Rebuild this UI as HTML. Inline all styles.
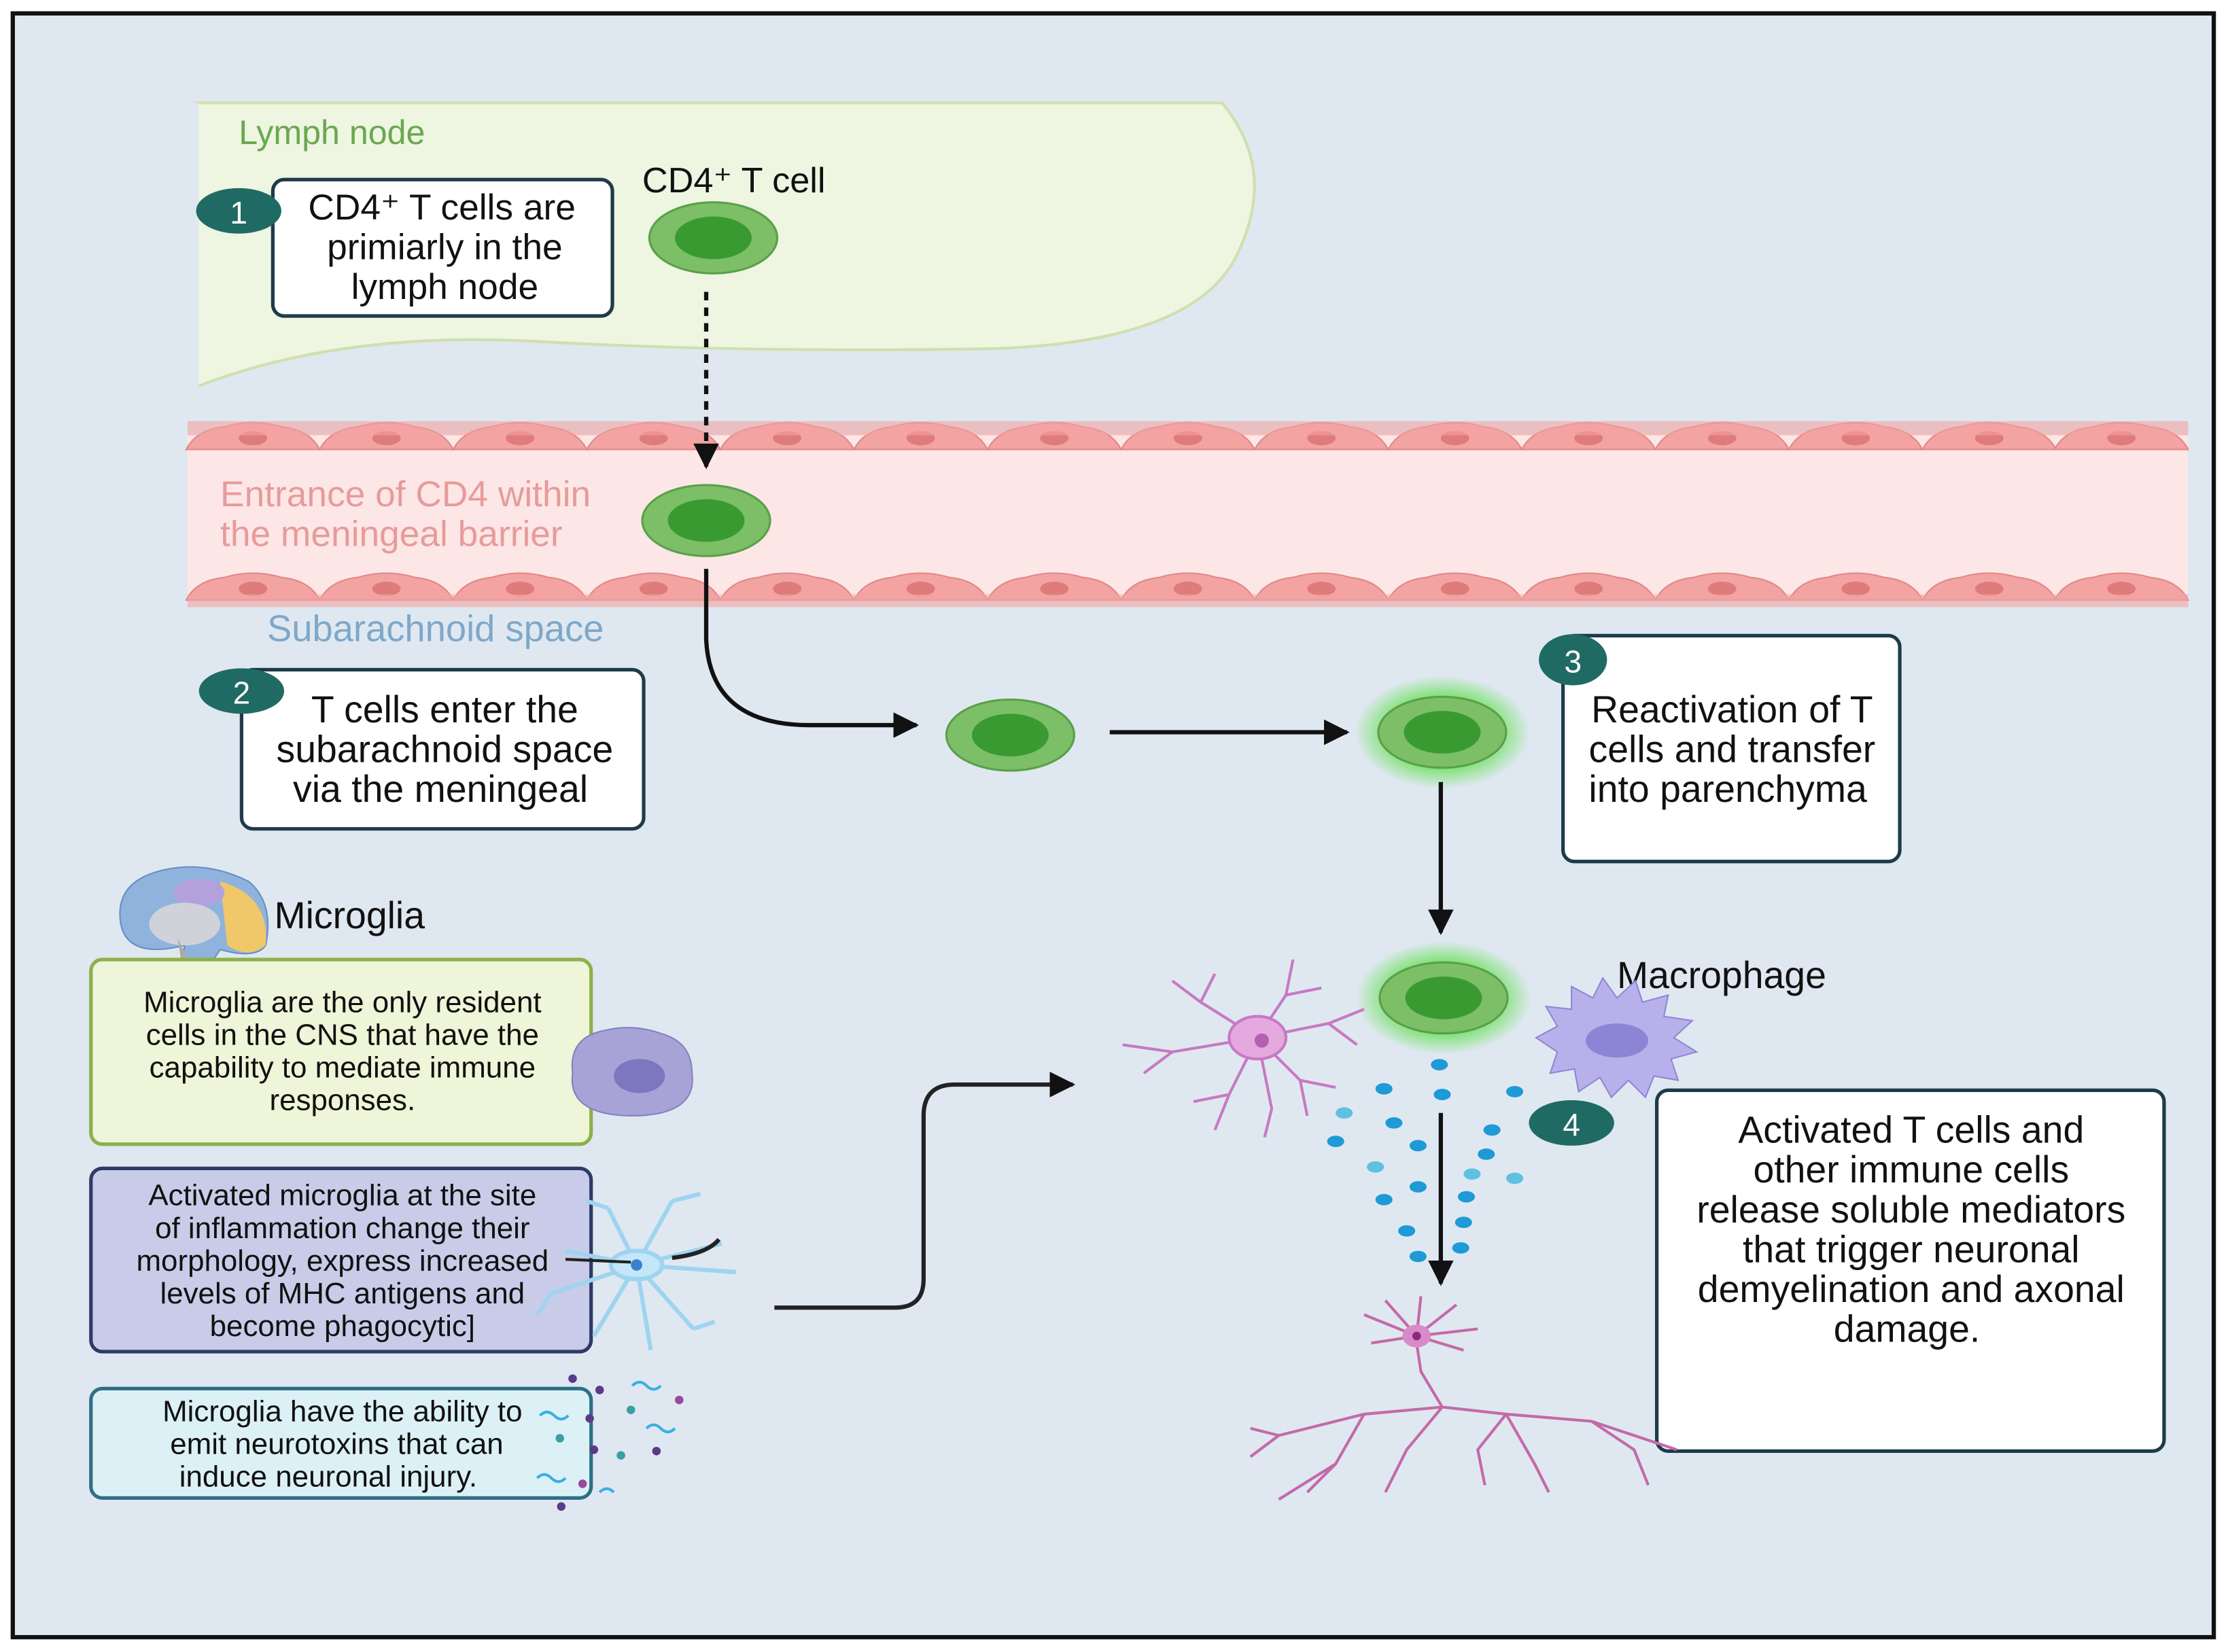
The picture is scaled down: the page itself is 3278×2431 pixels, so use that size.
<!DOCTYPE html>
<html><head><meta charset="utf-8"><style>
html,body{margin:0;padding:0;background:#fff}
svg{display:block}
text{font-family:"Liberation Sans",sans-serif}
</style></head><body>
<svg width="3278" height="2431" viewBox="0 0 1568 1162" xmlns="http://www.w3.org/2000/svg">
<defs>
<radialGradient id="glow"><stop offset="0.55" stop-color="#5fe04a" stop-opacity="0.9"/><stop offset="1" stop-color="#5fe04a" stop-opacity="0"/></radialGradient>
<marker id="ah" viewBox="0 0 10 10" refX="9" refY="5" markerWidth="6" markerHeight="6" orient="auto"><path d="M0,0L10,5L0,10z" fill="#111"/></marker>
<g id="cell"><ellipse rx="45" ry="25" fill="#7cbf66" stroke="#5aa04a" stroke-width="1.5"/><ellipse rx="27" ry="15" fill="#3a9a32"/></g>
<g id="endo"><path d="M-47,8 Q-40,-6 -20,-8 Q0,-14 20,-8 Q40,-6 47,8 Z" fill="#f2a3a2" stroke="#e08888"/><ellipse rx="10" ry="5" fill="#e07b7b"/></g>
</defs>
<rect x="0" y="0" width="1568" height="1162" fill="#fff"/>
<rect x="9" y="9" width="1549" height="1143" fill="#dfe8f1" stroke="#111" stroke-width="3"/>
<path d="M138,72 L860,72 Q900,120 870,180 Q840,240 700,245 Q520,248 380,240 Q240,232 138,272 Z" fill="#eef5e1" stroke="#cfe0ad" stroke-width="2"/>
<rect x="132" y="72" width="8" height="202" fill="#dfe8f1"/>
<text x="168" y="101" font-size="24" fill="#6aa84f">Lymph node</text>
<rect x="192" y="126" width="239" height="96" rx="8" fill="#fff" stroke="#1e3b4a" stroke-width="2.5"/>
<text font-size="25.5" fill="#111" text-anchor="middle"><tspan x="311" y="154">CD4⁺ T cells are</tspan><tspan x="313" y="182">primiarly in the</tspan><tspan x="313" y="210">lymph node</tspan></text>
<ellipse cx="168" cy="148" rx="30" ry="16" fill="#1f6b63"/><text x="168" y="157" font-size="22" fill="#fff" text-anchor="middle">1</text>
<text x="452" y="135" font-size="25" fill="#111">CD4⁺ T cell</text>
<use href="#cell" x="502" y="167"/>
<rect x="132" y="305" width="1408" height="115" fill="#fde6e6"/>
<g>
<use href="#endo" x="178" y="308"/><use href="#endo" x="272" y="308"/><use href="#endo" x="366" y="308"/><use href="#endo" x="460" y="308"/><use href="#endo" x="554" y="308"/><use href="#endo" x="648" y="308"/><use href="#endo" x="742" y="308"/><use href="#endo" x="836" y="308"/><use href="#endo" x="930" y="308"/><use href="#endo" x="1024" y="308"/><use href="#endo" x="1118" y="308"/><use href="#endo" x="1212" y="308"/><use href="#endo" x="1306" y="308"/><use href="#endo" x="1400" y="308"/><use href="#endo" x="1493" y="308"/>
<use href="#endo" x="178" y="414"/><use href="#endo" x="272" y="414"/><use href="#endo" x="366" y="414"/><use href="#endo" x="460" y="414"/><use href="#endo" x="554" y="414"/><use href="#endo" x="648" y="414"/><use href="#endo" x="742" y="414"/><use href="#endo" x="836" y="414"/><use href="#endo" x="930" y="414"/><use href="#endo" x="1024" y="414"/><use href="#endo" x="1118" y="414"/><use href="#endo" x="1212" y="414"/><use href="#endo" x="1306" y="414"/><use href="#endo" x="1400" y="414"/><use href="#endo" x="1493" y="414"/>
</g>
<rect x="132" y="296" width="1408" height="10" fill="#f2a3a2" opacity="0.6"/>
<rect x="132" y="418" width="1408" height="9" fill="#f2a3a2" opacity="0.6"/>
<line x1="497" y1="205" x2="497" y2="328" stroke="#111" stroke-width="3" stroke-dasharray="6,5" marker-end="url(#ah)"/>
<text font-size="25.5" fill="#e79b9b"><tspan x="155" y="356">Entrance of CD4 within</tspan><tspan x="155" y="384">the meningeal barrier</tspan></text>
<use href="#cell" x="497" y="366"/>
<text x="188" y="451" font-size="26" fill="#7fa8c9">Subarachnoid space</text>
<rect x="170" y="471" width="283" height="112" rx="8" fill="#fff" stroke="#1e3b4a" stroke-width="2.5"/>
<text font-size="26.5" fill="#111" text-anchor="middle"><tspan x="313" y="508">T cells enter the</tspan><tspan x="313" y="536">subarachnoid space</tspan><tspan x="310" y="564">via the meningeal</tspan></text>
<ellipse cx="170" cy="486" rx="30" ry="16" fill="#1f6b63"/><text x="170" y="495" font-size="22" fill="#fff" text-anchor="middle">2</text>
<path d="M497,400 L497,450 Q500,510 570,510 L645,510" fill="none" stroke="#111" stroke-width="3" marker-end="url(#ah)"/>
<use href="#cell" x="711" y="517"/>
<line x1="781" y1="515" x2="948" y2="515" stroke="#111" stroke-width="3" marker-end="url(#ah)"/>
<ellipse cx="1015" cy="515" rx="62" ry="40" fill="url(#glow)"/>
<use href="#cell" x="1015" y="515"/>
<rect x="1100" y="447" width="237" height="159" rx="8" fill="#fff" stroke="#1e3b4a" stroke-width="2.5"/>
<text font-size="26.5" fill="#111" text-anchor="middle"><tspan x="1219" y="508">Reactivation of T</tspan><tspan x="1219" y="536">cells and transfer</tspan><tspan x="1216" y="564">into parenchyma</tspan></text>
<ellipse cx="1107" cy="464" rx="24" ry="18" fill="#1f6b63"/><text x="1107" y="473" font-size="22" fill="#fff" text-anchor="middle">3</text>
<line x1="1014" y1="550" x2="1014" y2="656" stroke="#111" stroke-width="3" marker-end="url(#ah)"/>
<ellipse cx="1016" cy="702" rx="62" ry="40" fill="url(#glow)"/>
<use href="#cell" x="1016" y="702"/>
<text x="1138" y="695" font-size="26.5" fill="#111">Macrophage</text>
<g transform="translate(1136,730)">
<path d="M-55,0 L-40,-8 L-48,-22 L-30,-20 L-30,-36 L-15,-28 L-8,-42 L2,-28 L15,-40 L20,-25 L38,-30 L35,-15 L55,-12 L42,0 L58,10 L40,15 L45,30 L28,27 L22,42 L10,30 L-2,42 L-10,28 L-25,38 L-28,22 L-45,25 L-40,10 Z" fill="#b8b0ea" stroke="#8f86d4"/>
<ellipse cx="2" cy="2" rx="22" ry="12" fill="#8c85d6"/>
</g>
<g transform="translate(885,730)" stroke="#c77ac2" stroke-width="2" fill="none">
<path d="M0,0 L-60,10 L-95,5 M-60,10 L-80,25 M0,0 L-40,-25 L-60,-40 M-40,-25 L-30,-45 M0,0 L20,-30 L25,-55 M20,-30 L45,-35 M0,0 L50,-10 L75,-20 M50,-10 L70,5 M0,0 L30,30 L55,35 M30,30 L35,55 M0,0 L-20,40 L-30,65 M-20,40 L-45,45 M0,0 L10,50 L5,70"/>
<ellipse cx="0" cy="0" rx="20" ry="15" fill="#e6a9df"/><circle cx="3" cy="2" r="5" fill="#b45fb0" stroke="none"/>
</g>
<g fill="#1e9ad6">
<ellipse cx="1013" cy="749" rx="6" ry="4"/><ellipse cx="974" cy="766" rx="6" ry="4"/><ellipse cx="1015" cy="770" rx="6" ry="4"/><ellipse cx="1066" cy="768" rx="6" ry="4"/><ellipse cx="946" cy="783" rx="6" ry="4" fill="#5fc0e0"/><ellipse cx="981" cy="790" rx="6" ry="4"/><ellipse cx="1050" cy="795" rx="6" ry="4"/><ellipse cx="940" cy="803" rx="6" ry="4"/><ellipse cx="998" cy="806" rx="6" ry="4"/><ellipse cx="1046" cy="812" rx="6" ry="4"/><ellipse cx="968" cy="821" rx="6" ry="4" fill="#5fc0e0"/><ellipse cx="1036" cy="826" rx="6" ry="4" fill="#5fc0e0"/><ellipse cx="1066" cy="829" rx="6" ry="4" fill="#5fc0e0"/><ellipse cx="998" cy="835" rx="6" ry="4"/><ellipse cx="974" cy="844" rx="6" ry="4"/><ellipse cx="1032" cy="842" rx="6" ry="4"/><ellipse cx="990" cy="866" rx="6" ry="4"/><ellipse cx="1030" cy="860" rx="6" ry="4"/><ellipse cx="998" cy="884" rx="6" ry="4"/><ellipse cx="1028" cy="878" rx="6" ry="4"/>
</g>
<line x1="1014" y1="783" x2="1014" y2="903" stroke="#111" stroke-width="3" marker-end="url(#ah)"/>
<ellipse cx="1106" cy="790" rx="30" ry="16" fill="#1f6b63"/><text x="1106" y="799" font-size="22" fill="#fff" text-anchor="middle">4</text>
<rect x="1166" y="767" width="357" height="254" rx="8" fill="#fff" stroke="#1e3b4a" stroke-width="2.5"/>
<text font-size="26.5" fill="#111" text-anchor="middle"><tspan x="1345" y="804">Activated T cells and</tspan><tspan x="1345" y="832">other immune cells</tspan><tspan x="1345" y="860">release soluble mediators</tspan><tspan x="1345" y="888">that trigger neuronal</tspan><tspan x="1345" y="916">demyelination and axonal</tspan><tspan x="1342" y="944">damage.</tspan></text>
<g stroke="#c46aa8" stroke-width="2" fill="none">
<path d="M997,940 L960,925 M997,940 L975,915 M997,940 L1000,912 M997,940 L1025,918 M997,940 L1040,935 M997,940 L965,945 M997,940 L1030,950"/>
<path d="M997,945 L1000,965 L1015,990 L1060,995 L1120,1000 L1180,1020"/>
<path d="M1015,990 L960,995 L900,1010 L880,1025 M960,995 L940,1030 L920,1050 M940,1030 L900,1055 M1015,990 L990,1020 L975,1050 M1060,995 L1080,1030 L1090,1050 M1120,1000 L1150,1020 L1160,1045 M1060,995 L1040,1020 L1045,1045 M900,1010 L880,1005"/>
</g>
<ellipse cx="997" cy="940" rx="10" ry="8" fill="#d98ac8"/><circle cx="997" cy="940" r="3" fill="#8a2a7a"/>
<g transform="translate(135,650)">
<path d="M-50,0 Q-55,-30 -20,-38 Q10,-45 40,-30 Q58,-15 52,15 Q45,25 20,18 L5,40 L-10,40 L-5,15 Q-45,25 -50,0 Z" fill="#8fb3dc" stroke="#6a8fbf"/>
<path d="M20,-30 Q55,-20 52,15 Q40,25 25,15 Z" fill="#f0c86a"/>
<ellipse cx="5" cy="-22" rx="18" ry="10" fill="#b3a1de"/>
<ellipse cx="-5" cy="0" rx="25" ry="15" fill="#cfd3d9"/>
<path d="M-10,10 L5,40 L-5,42 Z" fill="#aaa"/>
</g>
<text x="193" y="653" font-size="26.5" fill="#111">Microglia</text>
<rect x="64" y="675" width="352" height="130" rx="8" fill="#eef5d8" stroke="#8db04a" stroke-width="2.5"/>
<text font-size="21" fill="#111" text-anchor="middle"><tspan x="241" y="712">Microglia are the only resident</tspan><tspan x="241" y="735">cells in the CNS that have the</tspan><tspan x="241" y="758">capability to mediate immune</tspan><tspan x="241" y="781">responses.</tspan></text>
<g transform="translate(445,755)">
<path d="M-42,0 Q-45,-25 -20,-30 Q0,-35 20,-28 Q42,-22 42,0 Q45,22 20,28 Q0,32 -20,28 Q-45,22 -42,0 Z" fill="#a8a3d6" stroke="#8580c2"/>
<ellipse cx="5" cy="2" rx="18" ry="12" fill="#7d77bf"/>
</g>
<rect x="64" y="822" width="352" height="129" rx="8" fill="#c8cce8" stroke="#2e3a66" stroke-width="2.5"/>
<text font-size="21" fill="#111" text-anchor="middle"><tspan x="241" y="848">Activated microglia at the site</tspan><tspan x="241" y="871">of inflammation change their</tspan><tspan x="241" y="894">morphology, express increased</tspan><tspan x="241" y="917">levels of MHC antigens and</tspan><tspan x="241" y="940">become phagocytic]</tspan></text>
<g transform="translate(448,890)" stroke="#9fd4f0" stroke-width="3" fill="none">
<path d="M0,0 L-50,-10 M0,0 L-60,20 M0,0 L-20,-40 M0,0 L25,-45 M0,0 L60,-15 M0,0 L70,5 M0,0 L40,45 M0,0 L10,60 M0,0 L-30,50 M-20,-40 L-35,-45 M25,-45 L45,-50 M40,45 L55,40 M-60,20 L-70,35"/>
<ellipse rx="18" ry="10" fill="#c3e6f8"/><circle r="4" fill="#3a7fd0" stroke="none"/>
<path d="M-50,-4 L-4,-2" stroke="#222" stroke-width="2"/>
<path d="M25,-5 Q50,-8 58,-18" stroke="#222" stroke-width="3"/>
</g>
<rect x="64" y="977" width="352" height="77" rx="8" fill="#dcf1f6" stroke="#2e6f86" stroke-width="2.5"/>
<text font-size="21" fill="#111" text-anchor="middle"><tspan x="241" y="1000">Microglia have the ability to</tspan><tspan x="237" y="1023">emit neurotoxins that can</tspan><tspan x="231" y="1046">induce neuronal injury.</tspan></text>
<g fill="#5a3a8a"><circle cx="403" cy="970" r="3"/><circle cx="422" cy="978" r="3"/><circle cx="415" cy="998" r="3"/><circle cx="444" cy="992" r="3" fill="#3aa0a0"/><circle cx="478" cy="985" r="3" fill="#9a4a9a"/><circle cx="394" cy="1012" r="3" fill="#3aa0a0"/><circle cx="418" cy="1020" r="3"/><circle cx="437" cy="1024" r="3" fill="#3aa0a0"/><circle cx="462" cy="1021" r="3"/><circle cx="410" cy="1044" r="3" fill="#9a4a9a"/><circle cx="395" cy="1060" r="3"/></g>
<g stroke="#3ab0e0" stroke-width="2" fill="none"><path d="M445,975 q5,-5 10,0 q5,5 10,0"/><path d="M380,996 q5,-5 10,0 q5,5 10,0"/><path d="M455,1005 q5,-5 10,0 q5,5 10,0"/><path d="M378,1040 q5,-5 10,0 q5,5 10,0"/><path d="M422,1050 q5,-5 10,0"/></g>
<path d="M545,920 L630,920 Q650,920 650,900 L650,785 Q650,763 672,763 L755,763" fill="none" stroke="#222" stroke-width="3" marker-end="url(#ah)"/>
</svg>
</body></html>
